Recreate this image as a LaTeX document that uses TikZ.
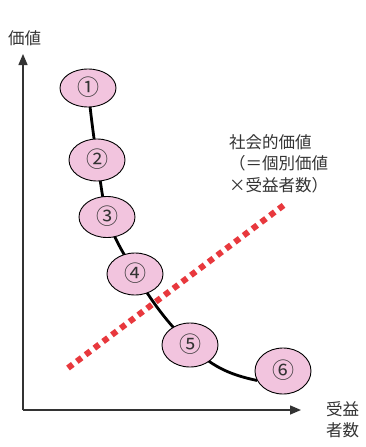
\documentclass[tikz,border=0pt]{standalone}
\usepackage{fontspec}
\setmainfont{Noto Sans CJK JP}
\usetikzlibrary{shapes.geometric,arrows.meta,backgrounds}
\definecolor{pinkfill}{HTML}{F2C4DE}
\definecolor{txtgray}{HTML}{333333}
\definecolor{reddot}{HTML}{E8383D}
\newcommand{\upnum}[1]{\raisebox{4pt}{#1}}
\begin{document}
\begin{tikzpicture}[x=1pt,y=-1pt,
  blob/.style={ellipse,draw=black,line width=0.9pt,fill=pinkfill,minimum width=56pt,minimum height=40pt,inner sep=0pt,text=txtgray,font=\fontsize{22}{22}\selectfont},
  axis/.style={draw=txtgray,line width=1.5pt,-{Triangle[length=11pt,width=9pt]}},
  lbl/.style={text=txtgray,font=\fontsize{16.5}{21.5}\selectfont,inner sep=0pt},
  curve/.style={line width=2.8pt,black},
  redline/.style={draw=reddot,line width=6pt,dash pattern=on 6pt off 5pt}]
\useasboundingbox (0,0) rectangle (366,447);
% axes
\coordinate (origin) at (23,410);
\coordinate (ytip) at (23,54);
\coordinate (xtip) at (301,410);
\draw[axis] (origin) -- (ytip);
\draw[axis] (origin) -- (xtip);
% labels
\node[lbl,anchor=west] (yl) at (8,38) {価値};
\node[lbl,anchor=north west,align=left] (xl) at (326,401) {受益\\者数};
\node[lbl,anchor=north west,align=left] (sv) at (229,134) {社会的価値\\（＝個別価値\\×受益者数）};
% red dotted line
\coordinate (r1) at (68,368);
\coordinate (r2) at (284,205);
\draw[redline] (r1) -- (r2);
% nodes
\node[blob,minimum height=38pt] (n1) at (88,88) {\upnum{①}};
\node[blob,minimum height=42pt] (n2) at (97,160) {\upnum{②}};
\node[blob,minimum height=41pt] (n3) at (107,217) {\upnum{③}};
\node[blob,minimum height=42pt] (n4) at (135,274) {\upnum{④}};
\node[blob,minimum height=44pt] (n5) at (190,345) {\upnum{⑤}};
\node[blob,minimum height=46pt] (n6) at (283,371) {\upnum{⑥}};
\begin{scope}[on background layer]
\draw[curve] (n1.center) to[out=-84,in=98] (n2.center)
  to[out=-80,in=104] (n3.center)
  to[out=-72,in=118] (n4.center)
  to[out=-58,in=135] (n5.center)
  to[out=-45,in=168] (n6.200);
\end{scope}
\end{tikzpicture}
\end{document}
